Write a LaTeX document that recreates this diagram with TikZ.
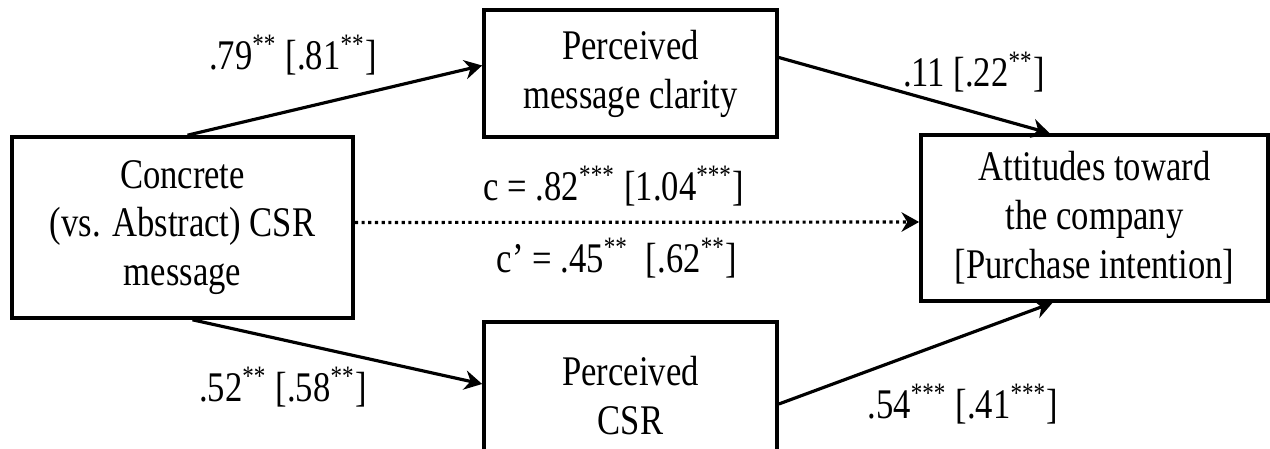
\documentclass[tikz,border=0pt]{standalone}
\usepackage{fontspec}
\setmainfont[FakeStretch=0.82]{Liberation Serif}
\usetikzlibrary{arrows.meta, calc}
\newcommand{\pstar}[1]{\textsuperscript{#1}}

\begin{document}
\begin{tikzpicture}[x=0.01cm, y=-0.01cm, >={Stealth[length=5pt, width=5.5pt]},
  every node/.style={font=\rmfamily\fontsize{12}{13.9}\selectfont, inner sep=0pt},
  varbox/.style={draw, line width=1pt, align=center},
  path/.style={->, line width=0.9pt}]
  \path[use as bounding box, clip] (0,0) rectangle (1270,449);
  % variables
  \node[varbox, minimum width=3.41cm, minimum height=1.81cm] (concrete) at (182.5,227.5) {Concrete\\(vs. Abstract) CSR\\message};
  \node[varbox, minimum width=2.93cm, minimum height=1.27cm] (clarity) at (630.5,73.5) {Perceived\\message clarity};
  \node[varbox, minimum width=2.93cm, minimum height=1.48cm] (csr) at (630.5,396) {Perceived\\CSR};
  \node[varbox, minimum width=3.47cm, minimum height=1.66cm] (attitude) at (1094.5,218) {Attitudes toward\\the company\\{[Purchase intention]}};
  % paths
  \draw[path] ($(concrete.north)+(5,0)$) -- ($(clarity.west)+(0,-8)$);
  \draw[path] ($(clarity.east)+(0,-16)$) -- ($(attitude.north)+(-45,0)$);
  \draw[path, densely dotted] ($(concrete.east)+(0,-5)$) -- ($(attitude.west)+(0,4)$);
  \draw[path] ($(concrete.south)+(10,0)$) -- ($(csr.west)+(0,-12)$);
  \draw[path] ($(csr.east)+(0,8)$) -- ($(attitude.south)+(-42,0)$);
  % coefficients
  \node (a1) at (293,55) {.79\pstar{**} [.81\pstar{**}]};
  \node (b1) at (974,72) {.11 [.22\pstar{**}]};
  \node (ctot) at (614,186) {c = .82\pstar{***} [1.04\pstar{***}]};
  \node (cdir) at (617,258) {c’ = .45\pstar{**}\ \ [.62\pstar{**}]};
  \node (a2) at (283,387) {.52\pstar{**} [.58\pstar{**}]};
  \node (b2) at (963,404) {.54\pstar{***} [.41\pstar{***}]};
\end{tikzpicture}
\end{document}
